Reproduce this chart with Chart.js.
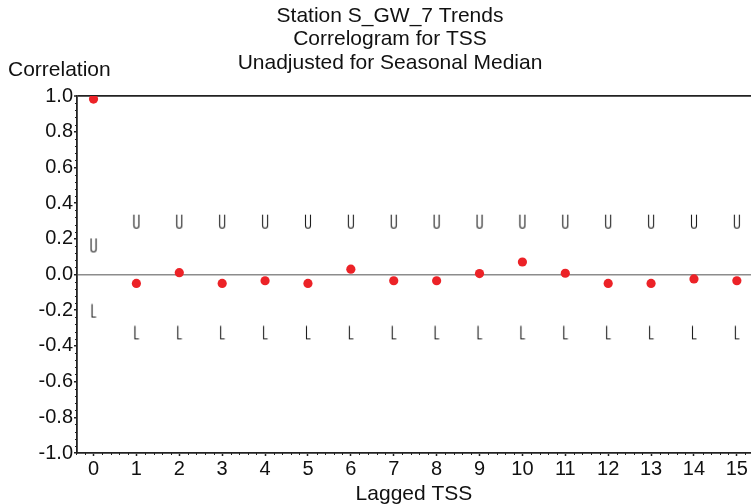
<!DOCTYPE html>
<html>
<head>
<meta charset="utf-8">
<title>Correlogram for TSS</title>
<script src="https://cdn.jsdelivr.net/npm/chart.js@4/dist/chart.umd.min.js"></script>
<style>
  html, body { margin: 0; padding: 0; background: #fff; }
  #wrap { width: 751px; height: 504px; position: relative; }
</style>
</head>
<body>
<div id="wrap"><canvas id="chart"></canvas></div>
<script>
// chart data
const titleLines = ['Station S_GW_7 Trends', 'Correlogram for TSS', 'Unadjusted for Seasonal Median'];
const yAxisLabel = 'Correlation';
const xAxisLabel = 'Lagged TSS';
const lags = [0, 1, 2, 3, 4, 5, 6, 7, 8, 9, 10, 11, 12, 13, 14, 15];
const correlation = [0.983, -0.05, 0.01, -0.05, -0.035, -0.05, 0.03, -0.035, -0.035, 0.005, 0.07, 0.007, -0.05, -0.05, -0.025, -0.035];
const upperLimit = [0.163, 0.296, 0.296, 0.296, 0.296, 0.296, 0.296, 0.296, 0.296, 0.296, 0.296, 0.296, 0.296, 0.296, 0.296, 0.296];
const lowerLimit = [-0.202, -0.324, -0.324, -0.324, -0.324, -0.324, -0.324, -0.324, -0.324, -0.324, -0.324, -0.324, -0.324, -0.324, -0.324, -0.324];
const yTicks = [-1, -0.8, -0.6, -0.4, -0.2, 0, 0.2, 0.4, 0.6, 0.8, 1];

const FONT = "'Liberation Sans', Arial, Helvetica, sans-serif";
const INK = '#222';

/**
 * Small canvas used as a point style: the U / L limit glyphs
 */
function makeGlyph(letter) {
  const c = document.createElement('canvas');
  c.width = 8;
  c.height = 16;
  const g = c.getContext('2d');
  g.strokeStyle = '#1e1e1e';
  g.lineWidth = 1.1;
  g.beginPath();
  if (letter === 'U') {
    g.moveTo(1.5, 1);
    g.lineTo(1.5, 12);
    g.arc(4, 12, 2.5, Math.PI, 0, true);
    g.lineTo(6.5, 1);
  } else {
    g.moveTo(2.5, 1.5);
    g.lineTo(2.5, 14.5);
    g.lineTo(6.5, 14.5);
  }
  g.stroke();
  return c;
}

const toPoints = values => lags.map((lag, i) => ({ x: lag, y: values[i] }));

// header text (title lines and the y label sit flat, above the frame)
const headerText = {
  id: 'headerText',
  afterDraw(chart) {
    const ctx = chart.ctx;
    ctx.save();
    ctx.fillStyle = '#111';
    ctx.font = `21px ${FONT}`;
    ctx.textAlign = 'center';
    ctx.textBaseline = 'middle';
    titleLines.forEach((line, i) => ctx.fillText(line, 390, 16 + i * 23.5));
    ctx.textAlign = 'left';
    ctx.fillText(yAxisLabel, 8, 70);
    ctx.restore();
  }
};

// minor tick marks on both axes
const minorTicks = {
  id: 'minorTicks',
  afterDraw(chart) {
    const { ctx, scales: { x, y } } = chart;
    ctx.save();
    ctx.strokeStyle = INK;
    ctx.lineWidth = 1;
    ctx.beginPath();
    for (let k = -25; k <= 25; k++) {
      if (k % 5 === 0) continue;
      const py = Math.round(y.getPixelForValue(k * 0.04)) + 0.5;
      ctx.moveTo(x.left - 2, py);
      ctx.lineTo(x.left, py);
    }
    for (let k = -2; k <= 76; k++) {
      if (k % 5 === 0) continue;
      const px = Math.round(x.getPixelForValue(k * 0.2)) + 0.5;
      if (px > x.right) break;
      ctx.moveTo(px, y.bottom);
      ctx.lineTo(px, y.bottom + 2);
    }
    ctx.stroke();
    ctx.restore();
  }
};

const ctx = document.getElementById('chart');
new Chart(ctx, {
  type: 'scatter',
  data: {
    datasets: [{
      label: 'Correlation',
      data: toPoints(correlation),
      pointStyle: 'circle',
      pointRadius: 4.6,
      backgroundColor: '#ec2227',
      borderColor: '#ec2227',
      borderWidth: 0
    }, {
      label: 'Upper',
      data: toPoints(upperLimit),
      pointStyle: makeGlyph('U'),
      pointRadius: 5
    }, {
      label: 'Lower',
      data: toPoints(lowerLimit),
      pointStyle: makeGlyph('L'),
      pointRadius: 5
    }]
  },
  options: {
    responsive: true,
    maintainAspectRatio: false,
    animation: false,
    layout: { autoPadding: false, padding: { top: 96, right: 0, bottom: 0, left: 0 } },
    plugins: {
      legend: { display: false },
      tooltip: { enabled: false },
      title: { display: false }
    },
    scales: {
      x: {
        type: 'linear',
        min: -0.385,
        max: 15.33,
        afterFit: scale => {
          scale.height = 51;
          scale.paddingLeft = 0;
          scale.paddingRight = 0;
        },
        ticks: {
          stepSize: 1,
          includeBounds: false,
          autoSkip: false,
          maxRotation: 0,
          padding: 1,
          color: '#111',
          font: { family: FONT, size: 20 },
          callback: v => (Number.isInteger(v) && v >= 0 && v <= 15 ? String(v) : '')
        },
        grid: {
          drawOnChartArea: false,
          drawTicks: true,
          tickLength: 3,
          tickColor: INK,
          tickWidth: 1.5
        },
        border: { display: true, color: INK, width: 1.8 },
        title: {
          display: true,
          text: xAxisLabel,
          color: '#111',
          font: { family: FONT, size: 21, lineHeight: 1 },
          padding: { top: 0, bottom: -1 }
        }
      },
      y: {
        min: -1,
        max: 1,
        afterFit: scale => { scale.width = 77; },
        afterBuildTicks: scale => { scale.ticks = yTicks.map(v => ({ value: v })); },
        ticks: {
          autoSkip: false,
          padding: 1,
          color: '#111',
          font: { family: FONT, size: 20 },
          callback: v => v.toFixed(1)
        },
        grid: {
          drawTicks: true,
          tickLength: 3,
          tickColor: INK,
          tickWidth: 1.5,
          color: c => (c.tick && Math.abs(c.tick.value - 1) < 1e-9 ? INK
            : c.tick && Math.abs(c.tick.value) < 1e-9 ? '#8c8c8c' : 'rgba(0,0,0,0)'),
          lineWidth: c => (c.tick && Math.abs(c.tick.value - 1) < 1e-9 ? 1.8 : 1.5)
        },
        border: { display: true, color: INK, width: 1.8 }
      }
    }
  },
  plugins: [headerText, minorTicks]
});
</script>
</body>
</html>
